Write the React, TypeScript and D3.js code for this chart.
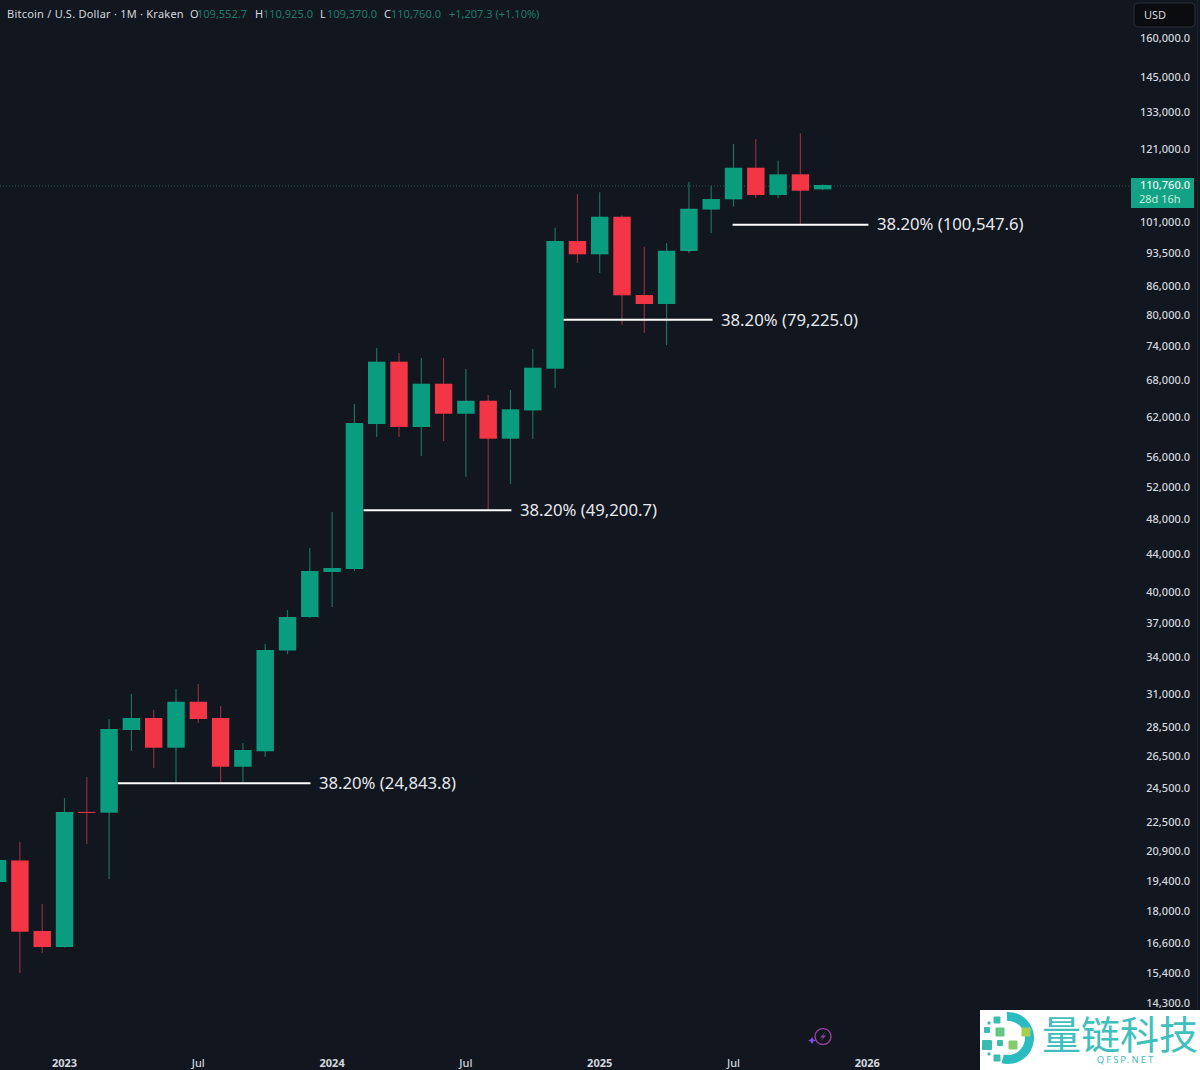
import * as d3 from "d3";

const width = 1200;
const height = 1070;

// months counted from Jan 2023, one candle each, Oct 2022 .. Nov 2025
const months = d3.range(-3, 35);
const opens = [
  19357, 20430, 17124, 16451, 23070, 23023, 28316, 29179, 27089, 30391, 29179, 25830, 26848,
  34550, 37569, 42050, 42365, 60895, 71176, 60441, 67358, 62483, 64551, 58700, 63000, 69935,
  96270, 93115, 102300, 84100, 82232, 93900, 104150, 106850, 115650, 108010, 113755, 109552.7,
];
const highs = [
  20900, 21395, 18321, 23885, 25173, 29107, 30985, 29769, 31375, 31770, 30067, 27410, 35116,
  38232, 44652, 48860, 64026, 73654, 72739, 71834, 71834, 69884, 65478, 66305, 73465, 99530,
  108205, 108745, 102600, 94910, 95785, 111660, 110560, 122720, 124265, 117690, 126045, 110925,
];
const lows = [
  18100, 15413, 16206, 16430, 21288, 19503, 26867, 25747, 24798, 28816, 24798, 24850, 26467,
  34250, 37477, 38524, 42155, 58948, 58948, 56209, 58360, 53374, 49200, 52405, 58654, 66638,
  91109, 88860, 78020, 76473, 74205, 93360, 98215, 104900, 107200, 107208, 100300, 109370,
];
const closes = [
  20453, 17094, 16451, 23063, 23045, 28388, 29179, 27089, 30391, 29107, 25830, 26934, 34592,
  37569, 42155, 42471, 61047, 71176, 60441, 67358, 62483, 64551, 58700, 63180, 70110, 96270,
  93115, 102300, 84036, 82232, 93960, 104370, 106930, 115650, 108010, 113755, 109180, 110760,
];

const priceTicks = [
  160000, 145000, 133000, 121000, 101000, 93500, 86000, 80000, 74000, 68000, 62000, 56000, 52000,
  48000, 44000, 40000, 37000, 34000, 31000, 28500, 26500, 24500, 22500, 20900, 19400, 18000, 16600,
  15400, 14300,
];
const timeTickMonths = [0, 6, 12, 18, 24, 30, 36];
const timeTickLabels = ["2023", "Jul", "2024", "Jul", "2025", "Jul", "2026"];

// retracement levels with the month span each line covers
const fibLevels = [24843.8, 49200.7, 79225.0, 100547.6];
const fibStarts = [2.4, 13.41, 22.38, 29.96];
const fibEnds = [11.03, 20.04, 29.06, 36.05];

const lastPrice = 110760;
const headerParts = ["O", "109,552.7", "H", "110,925.0", "L", "109,370.0", "C", "110,760.0", "+1,207.3 (+1.10%)"];
const headerX = [190, 197, 255, 263, 320, 327, 384, 391, 449];

const UP = "#0a9c7f";
const DOWN = "#f23645";
const UP_WICK = "#1d6f60";
const DOWN_WICK = "#8c2f3e";
const BG = "#12161f";
const FONT = "'Noto Sans', sans-serif";

const x = d3.scaleLinear().domain([0, 36]).range([64.5, 867.3]);
const y = d3.scaleLog().domain([160000, 14300]).range([38, 1003]);
const fmtPrice = d3.format(",.1f");
const bodyWidth = 17.4;

const logoArc = d3.arc()({
  innerRadius: 17,
  outerRadius: 26,
  startAngle: -0.05,
  endAngle: Math.PI + 0.25,
}) as string;

// logo squares: centre x, centre y, side, colour
const logoSquares: [number, number, number, string][] = [
  [997, 1020, 7, "#3bbcb0"],
  [989, 1023, 3, "#3bbcb0"],
  [987, 1030, 6, "#3bbcb0"],
  [1000, 1032, 9, "#63c784"],
  [1026, 1032, 9, "#a6cf4f"],
  [987, 1045, 10, "#3bbcb0"],
  [1000, 1043, 6, "#3bbcb0"],
  [1013, 1045, 9, "#84cb6b"],
  [989, 1054, 3, "#3bbcb0"],
  [997, 1058, 7, "#3bbcb0"],
];

const App = () => {
  return (
    <svg
      width={width}
      height={height}
      style={{ position: "fixed", left: 0, top: 0, display: "block", background: BG }}
    >
      {/* current price line */}
      <line
        x1={0}
        x2={1131}
        y1={y(lastPrice) + 1}
        y2={y(lastPrice) + 1}
        stroke="#1f5a50"
        strokeWidth={1}
        strokeDasharray="1 2"
      />
      <line x1={1197.5} x2={1197.5} y1={0} y2={height} stroke="#1c202a" />

      {/* candles */}
      {months.map((m, i) => {
        const isUp = closes[i] >= opens[i];
        const top = y(Math.max(opens[i], closes[i]));
        const bottom = y(Math.min(opens[i], closes[i]));
        return (
          <g key={m}>
            <line
              x1={x(m)}
              x2={x(m)}
              y1={y(highs[i])}
              y2={y(lows[i])}
              stroke={isUp ? UP_WICK : DOWN_WICK}
              strokeWidth={1.2}
            />
            <rect
              x={x(m) - bodyWidth / 2}
              y={top}
              width={bodyWidth}
              height={Math.max(bottom - top, 1)}
              fill={isUp ? UP : DOWN}
            />
          </g>
        );
      })}

      {/* 38.2% lines */}
      {fibLevels.map((level, i) => (
        <g key={level}>
          <line
            x1={x(fibStarts[i])}
            x2={x(fibEnds[i])}
            y1={y(level) + 1}
            y2={y(level) + 1}
            stroke="#ffffff"
            strokeWidth={2}
          />
          <text
            x={x(fibEnds[i]) + 8.5}
            y={y(level) + 1}
            dy="0.35em"
            fontFamily={FONT}
            fontSize={16.7}
            fill="#e6e8ec"
          >
            {`38.20% (${fmtPrice(level)})`}
          </text>
        </g>
      ))}

      {/* header */}
      <text x={7} y={18} fontFamily={FONT} fontSize={11} letterSpacing={0.23} fill="#d4d7de">
        Bitcoin / U.S. Dollar · 1M · Kraken
      </text>
      {headerParts.map((part, i) => (
        <text
          key={part}
          x={headerX[i]}
          y={18}
          fontFamily={FONT}
          fontSize={11}
          fill={part.length === 1 ? "#d4d7de" : "#1b7c69"}
        >
          {part}
        </text>
      ))}

      {/* price axis */}
      <rect x={1134} y={3} width={61} height={24} rx={4} fill="#0b0c0f" stroke="#2a2e39" />
      <text x={1144} y={19} fontFamily={FONT} fontSize={11} fill="#d4d7de">
        USD
      </text>
      {priceTicks.map((t) => (
        <text
          key={t}
          x={1190}
          y={y(t)}
          dy="0.35em"
          textAnchor="end"
          fontFamily={FONT}
          fontSize={11}
          fontWeight={500}
          fill="#d4d7de"
        >
          {fmtPrice(t)}
        </text>
      ))}
      <rect x={1131} y={178} width={63} height={30} fill="#12a285" />
      <text x={1190} y={189} textAnchor="end" fontFamily={FONT} fontSize={11} fontWeight={500} fill="#e8f5f1">
        {fmtPrice(lastPrice)}
      </text>
      <text x={1139} y={203} fontFamily={FONT} fontSize={11} fill="#c4ebe0">
        28d 16h
      </text>

      {/* time axis */}
      {timeTickMonths.map((m, i) => (
        <text
          key={m}
          x={x(m)}
          y={1067}
          textAnchor="middle"
          fontFamily={FONT}
          fontSize={11}
          fontWeight={i % 2 === 0 ? 700 : 500}
          fill="#d4d7de"
        >
          {timeTickLabels[i]}
        </text>
      ))}

      {/* assistant icon */}
      <g transform="translate(823,1036.5)">
        <circle r={8} fill="none" stroke="#8e3f96" strokeWidth={1.5} />
        <path d="M2.5,-5 L-3,1 L0,1 L-2.5,5 L3,-1 L0,-1 Z" fill="#8e3f96" />
        <path d="M-11,0.5 L-9.5,3 L-7,4 L-9.5,5 L-11,7.5 L-12.5,5 L-15,4 L-12.5,3 Z" fill="#7b4fe0" />
      </g>

      {/* watermark */}
      <rect x={980} y={1010} width={220} height={60} fill="#ffffff" />
      <g transform="translate(1008,1038)">
        <path d={logoArc} fill="#2bbcbf" />
      </g>
      {logoSquares.map(([cx, cy, side, color]) => (
        <rect
          key={`${cx}-${cy}`}
          x={cx - side / 2}
          y={cy - side / 2}
          width={side}
          height={side}
          rx={1}
          fill={color}
        />
      ))}
      <text x={1042} y={1049} fontFamily="'Noto Sans CJK SC', sans-serif" fontSize={39} fill="#3fc0bd">
        量链科技
      </text>
      <text x={1126} y={1063} textAnchor="middle" fontFamily={FONT} fontSize={9.5} letterSpacing={2} fill="#3fc0bd">
        QFSP.NET
      </text>
    </svg>
  );
};

export default App;
